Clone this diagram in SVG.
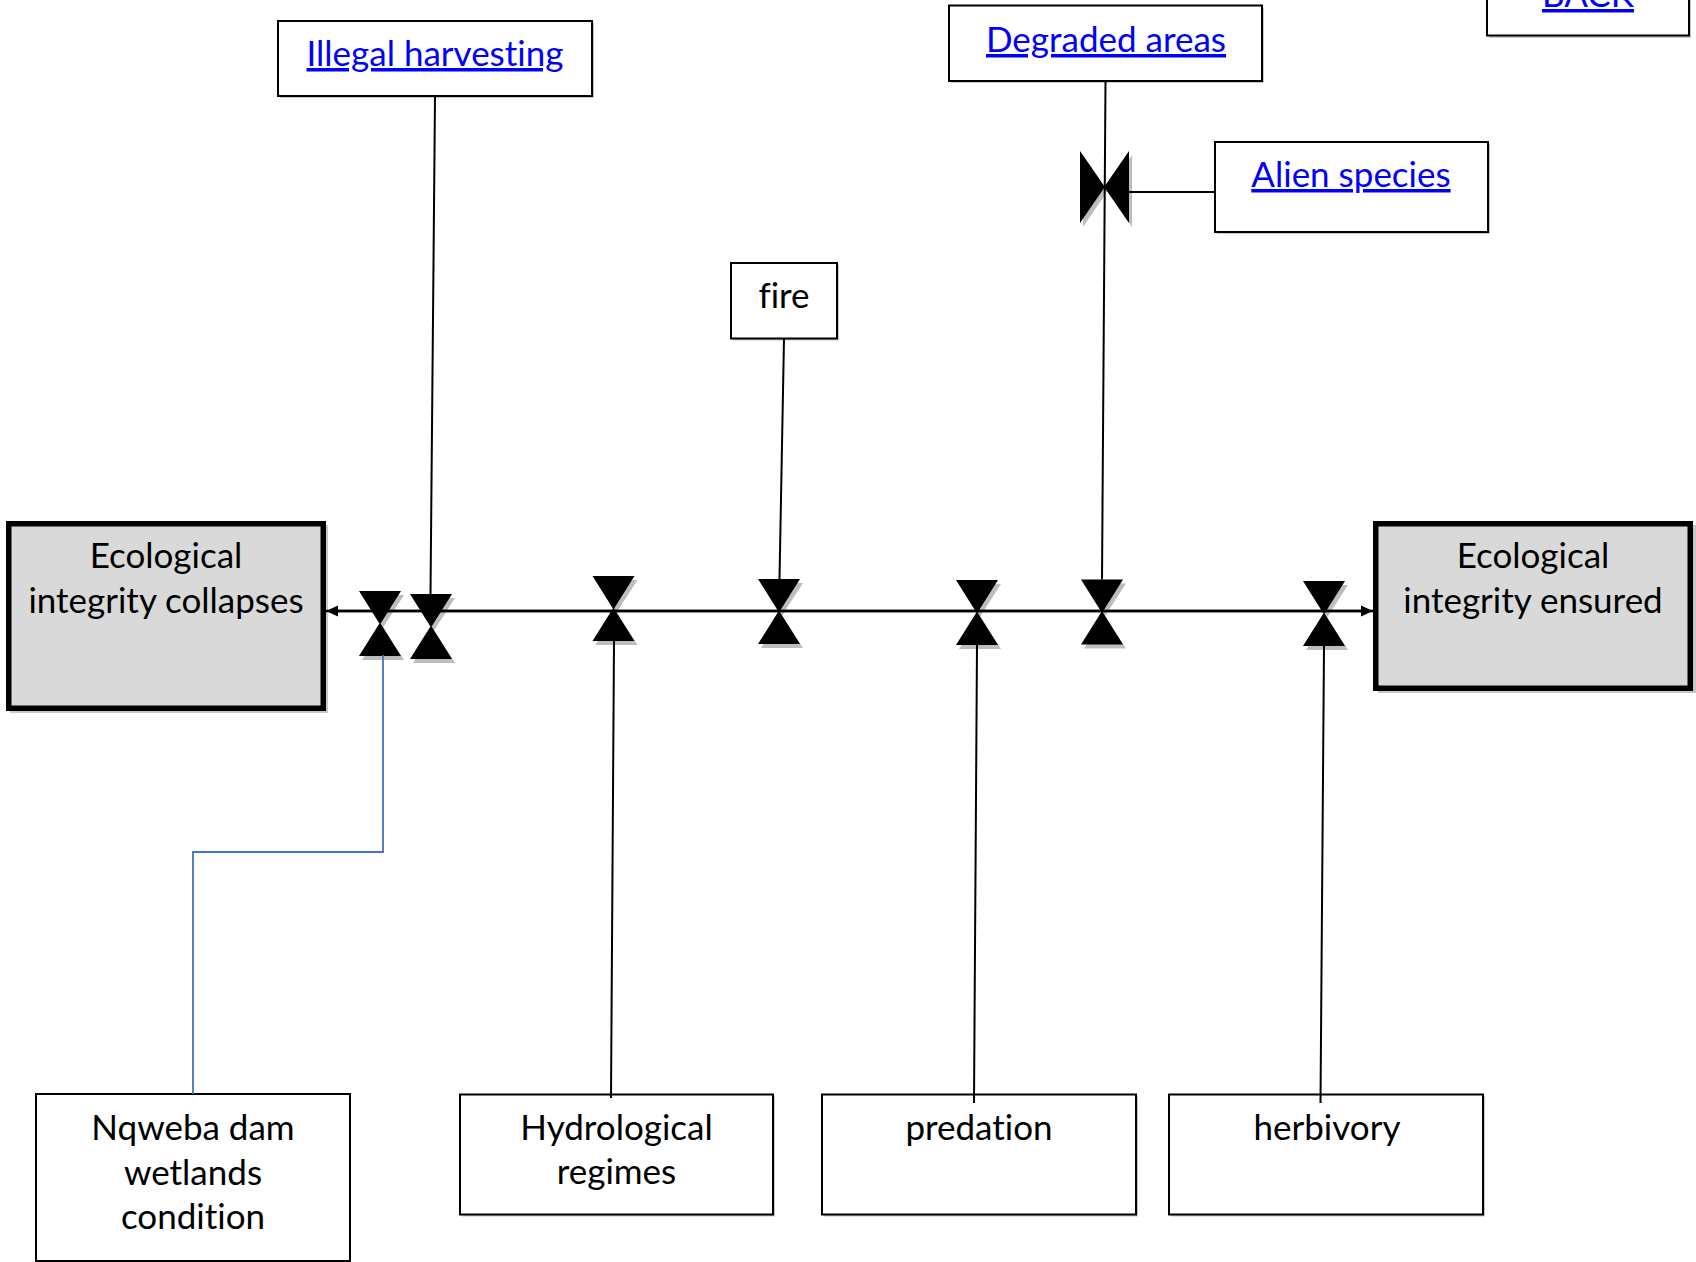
<svg xmlns="http://www.w3.org/2000/svg" xmlns:xlink="http://www.w3.org/1999/xlink" width="1696" height="1262" viewBox="0 0 1696 1262">
<style>
.box{fill:#fff;stroke:#000;stroke-width:2}
.shd{fill:#c8c8c8}
.thick{fill:#d9d9d9;stroke:#000;stroke-width:5.5}
.t{font-family:Lato,"Open Sans","Liberation Sans",sans-serif;font-size:35px;fill:#000;text-anchor:middle;font-variant-ligatures:none;font-feature-settings:"liga" 0}
.link{fill:#0000ff;text-decoration:underline}
.conn{stroke:#000;stroke-width:2;fill:none}
.main{stroke-width:2.6}
.blue{stroke:#4472c4;stroke-width:1.8;fill:none}
</style>
<defs>
<marker id="arr" viewBox="0 0 12 12" refX="12" refY="6" markerWidth="12" markerHeight="12" markerUnits="userSpaceOnUse" orient="auto-start-reverse">
<path d="M0,0.5L12,6L0,11.5Z" fill="#000"/>
</marker>
<g id="bt">
<path transform="translate(3,4)" fill="#bdbdbd" d="M0,0H42L21,32.5L42,65H0L21,32.5Z"/>
<path fill="#000" d="M0,0H42L21.6,32.5L42,65H0L20.4,32.5Z"/>
</g>
</defs>

<g id="nodes">
<g id="collapses">
<rect class="shd" x="10" y="525" width="318" height="188"/>
<rect class="thick" x="8.75" y="523.75" width="314.5" height="184.5"/>
<text class="t" x="166" y="568">Ecological</text>
<text class="t" x="166" y="613">integrity collapses</text>
</g>
<g id="ensured">
<rect class="shd" x="1378" y="525" width="318" height="168"/>
<rect class="thick" x="1375.75" y="523.75" width="314.5" height="164.5"/>
<text class="t" x="1533" y="568">Ecological</text>
<text class="t" x="1533" y="613">integrity ensured</text>
</g>
<g id="back">
<rect class="shd" x="1489" y="-38" width="202" height="76"/>
<rect class="box" x="1487" y="-40" width="202" height="75.5"/>
<text class="t link" x="1588" y="7">BACK</text>
</g>
<g id="illegal">
<rect class="shd" x="280" y="23" width="314" height="75"/>
<rect class="box" x="278" y="21" width="314" height="75"/>
<text class="t link" x="435" y="66">Illegal harvesting</text>
</g>
<g id="degraded">
<rect class="shd" x="951" y="7.5" width="313" height="75.5"/>
<rect class="box" x="949" y="5.5" width="313" height="75.5"/>
<text class="t link" x="1106" y="52">Degraded areas</text>
</g>
<g id="alien">
<rect class="shd" x="1217" y="144" width="273" height="90"/>
<rect class="box" x="1215" y="142" width="273" height="90"/>
<text class="t link" x="1351" y="187">Alien species</text>
</g>
<g id="fire">
<rect class="shd" x="733" y="265" width="106" height="75.5"/>
<rect class="box" x="731" y="263" width="106" height="75.5"/>
<text class="t" x="784" y="308">fire</text>
</g>
<g id="nqweba">
<rect class="box" x="36" y="1094" width="314" height="167"/>
<text class="t" x="193" y="1140">Nqweba dam</text>
<text class="t" x="193" y="1185">wetlands</text>
<text class="t" x="193" y="1229">condition</text>
</g>
<g id="hydro">
<rect class="shd" x="462" y="1096.5" width="313" height="120"/>
<rect class="box" x="460" y="1094.5" width="313" height="120"/>
<text class="t" x="616.5" y="1140">Hydrological</text>
<text class="t" x="616.5" y="1184">regimes</text>
</g>
<g id="predation">
<rect class="shd" x="824" y="1096.5" width="314" height="120"/>
<rect class="box" x="822" y="1094.5" width="314" height="120"/>
<text class="t" x="979" y="1140">predation</text>
</g>
<g id="herbivory">
<rect class="shd" x="1171" y="1096.5" width="314" height="120"/>
<rect class="box" x="1169" y="1094.5" width="314" height="120"/>
<text class="t" x="1327" y="1140">herbivory</text>
</g>
<g id="valves">
<use id="v1" xlink:href="#bt" href="#bt" x="359" y="591"/>
<use id="v2" xlink:href="#bt" href="#bt" x="410" y="594"/>
<use id="v3" xlink:href="#bt" href="#bt" x="592.5" y="576"/>
<use id="v4" xlink:href="#bt" href="#bt" x="758" y="579"/>
<use id="v5" xlink:href="#bt" href="#bt" x="956" y="580"/>
<use id="v6" xlink:href="#bt" href="#bt" x="1081" y="579.5"/>
<use id="v7" xlink:href="#bt" href="#bt" x="1303" y="581"/>
<g id="v8">
<path transform="translate(1083,155)" fill="#bdbdbd" d="M0,0L24.5,36L49,0V72L24.5,36L0,72Z"/>
<path transform="translate(1080,151)" fill="#000" d="M0,0L24.5,35.4L49,0V72L24.5,36.6L0,72Z"/>
</g>
</g>
</g>

<g id="connectors">
<line class="conn main" x1="338" y1="611" x2="1373" y2="611" marker-end="url(#arr)"/>
<line class="conn main" x1="1361" y1="611" x2="326" y2="611" marker-end="url(#arr)"/>
<line class="conn" x1="435" y1="97" x2="430.5" y2="594"/>
<line class="conn" x1="1105.5" y1="81" x2="1102" y2="579.5"/>
<line class="conn" x1="1215" y1="192" x2="1129" y2="192"/>
<line class="conn" x1="784" y1="338.5" x2="779.5" y2="579"/>
<line class="conn" x1="614" y1="641" x2="611" y2="1098"/>
<line class="conn" x1="977" y1="645" x2="974" y2="1103"/>
<line class="conn" x1="1324" y1="646" x2="1320.5" y2="1103"/>
<polyline class="blue" points="383,655 383,852 193,852 193,1094"/>
</g>
</svg>
